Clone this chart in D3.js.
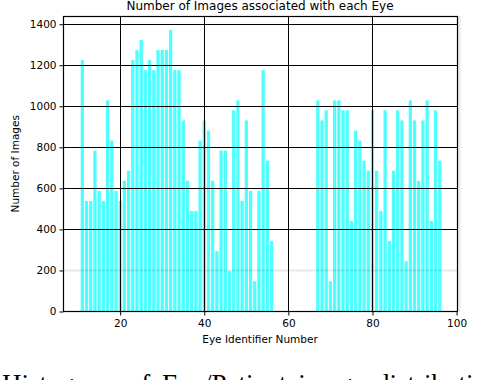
<!DOCTYPE html>
<html>
<head>
<meta charset="utf-8">
<script src="https://cdn.jsdelivr.net/npm/d3@7"></script>
<style>
    body { margin: 0; background: #fff; }
    svg { display: block; }
</style>
</head>
<body>
<svg></svg>
<script>
"use strict";

// eye ids and number of images
var eyeIds = [11, 12, 13, 14, 15, 16, 17, 18, 19, 20, 21, 22, 23, 24, 25, 26, 27, 28, 29, 30,
    31, 32, 33, 34, 35, 36, 37, 38, 39, 40, 41, 42, 43, 44, 45, 46, 47, 48, 49, 50,
    51, 52, 53, 54, 55, 56,
    67, 68, 69, 70, 71, 72, 73, 74, 75, 76, 77, 78, 79, 80, 81, 82, 83, 84, 85, 86,
    87, 88, 89, 90, 91, 92, 93, 94, 95, 96];
var imageCounts = [1225, 539, 539, 784, 588, 539, 1029, 833, 588, 539, 637, 686, 1225, 1274, 1323, 1176, 1225, 1176, 1274, 1274,
    1274, 1372, 1176, 1176, 931, 637, 490, 490, 833, 931, 882, 637, 294, 784, 784, 196, 980, 1029, 539, 931,
    588, 147, 588, 1176, 735, 343,
    1029, 931, 980, 147, 1029, 1029, 980, 980, 441, 882, 833, 735, 686, 980, 686, 490, 980, 343, 686, 980,
    931, 245, 1029, 931, 637, 931, 1029, 441, 980, 735];
var xTicks = [20, 40, 60, 80, 100];
var yTicks = [0, 200, 400, 600, 800, 1000, 1200, 1400];

var bins = eyeIds.map((id, i) => ({ id: id, count: imageCounts[i] }));

var width = 488, height = 380;
var plotLeft = 63, plotRight = 457, plotTop = 16, plotBottom = 311.5;

var svg = d3.select("svg")
    .attr("width", width)
    .attr("height", height)
    .style("font-family", "'DejaVu Sans', sans-serif");

var xScale = d3.scaleLinear().domain([6.4, 100.1]).range([plotLeft, plotRight]);
var yScale = d3.scaleLinear().domain([0, 1440]).range([plotBottom, plotTop]);

// bars
var barW = xScale(0.78) - xScale(0);
svg.append("g")
    .selectAll("rect")
    .data(bins)
    .enter()
    .append("rect")
    .attr("x", d => xScale(d.id) - barW / 2)
    .attr("y", d => yScale(d.count))
    .attr("width", barW)
    .attr("height", d => yScale(0) - yScale(d.count))
    .style("fill", "rgb(77,255,255)");

// grid on top of the bars
var grid = svg.append("g");
grid.selectAll(".hgrid")
    .data(yTicks.filter(v => v > 0))
    .enter()
    .append("line")
    .attr("x1", plotLeft).attr("x2", plotRight)
    .attr("y1", d => Math.round(yScale(d)) + 0.5)
    .attr("y2", d => Math.round(yScale(d)) + 0.5)
    .style("stroke", d => d == 200 ? "rgba(0,0,0,0.09)" : "#000")
    .style("stroke-width", d => d == 200 ? 2 : 1);
grid.selectAll(".vgrid")
    .data(xTicks)
    .enter()
    .append("line")
    .attr("x1", d => Math.round(xScale(d)) + 0.5)
    .attr("x2", d => Math.round(xScale(d)) + 0.5)
    .attr("y1", plotTop).attr("y2", plotBottom)
    .style("stroke", "#000")
    .style("stroke-width", 1);

// faint strip at the right edge
svg.append("rect")
    .attr("x", plotRight + 1).attr("y", plotTop)
    .attr("width", 3).attr("height", plotBottom - plotTop)
    .style("fill", "#efefef");

// frame
svg.append("rect")
    .attr("x", plotLeft + 0.5).attr("y", plotTop + 0.5)
    .attr("width", plotRight - plotLeft).attr("height", plotBottom - plotTop - 0.5)
    .style("fill", "none")
    .style("stroke", "#000")
    .style("stroke-width", 1.2);

// axes
var xAxis = svg.append("g")
    .attr("transform", "translate(0," + plotBottom + ")")
    .call(d3.axisBottom(xScale).tickValues(xTicks).tickSize(4).tickPadding(4));
var yAxis = svg.append("g")
    .attr("transform", "translate(" + (plotLeft + 0.5) + ",0)")
    .call(d3.axisLeft(yScale).tickValues(yTicks).tickFormat(d3.format("d")).tickSize(4).tickPadding(3));

[xAxis, yAxis].forEach(a => {
    a.select(".domain").remove();
    a.selectAll("line").style("stroke", "#000");
    a.selectAll("text")
        .style("font-family", "'DejaVu Sans', sans-serif")
        .style("font-size", "10.5px")
        .style("fill", "#000");
});

// title and labels
svg.append("text")
    .attr("x", (plotLeft + plotRight) / 2)
    .attr("y", 9.5)
    .attr("text-anchor", "middle")
    .style("font-size", "12px")
    .text("Number of Images associated with each Eye");

svg.append("text")
    .attr("x", (plotLeft + plotRight) / 2)
    .attr("y", 343)
    .attr("text-anchor", "middle")
    .style("font-size", "10.5px")
    .text("Eye Identifier Number");

svg.append("text")
    .attr("transform", "translate(19," + ((plotTop + plotBottom) / 2) + ") rotate(-90)")
    .attr("text-anchor", "middle")
    .style("font-size", "10.5px")
    .text("Number of Images");

// caption of the paper figure, cut by the bottom edge
svg.append("text")
    .attr("x", 2)
    .attr("y", 393)
    .style("font-family", "'Liberation Serif', 'Times New Roman', serif")
    .style("font-size", "27px")
    .style("word-spacing", "5px")
    .text("Histogram of Eye/Patient image distribution");
</script>
</body>
</html>
